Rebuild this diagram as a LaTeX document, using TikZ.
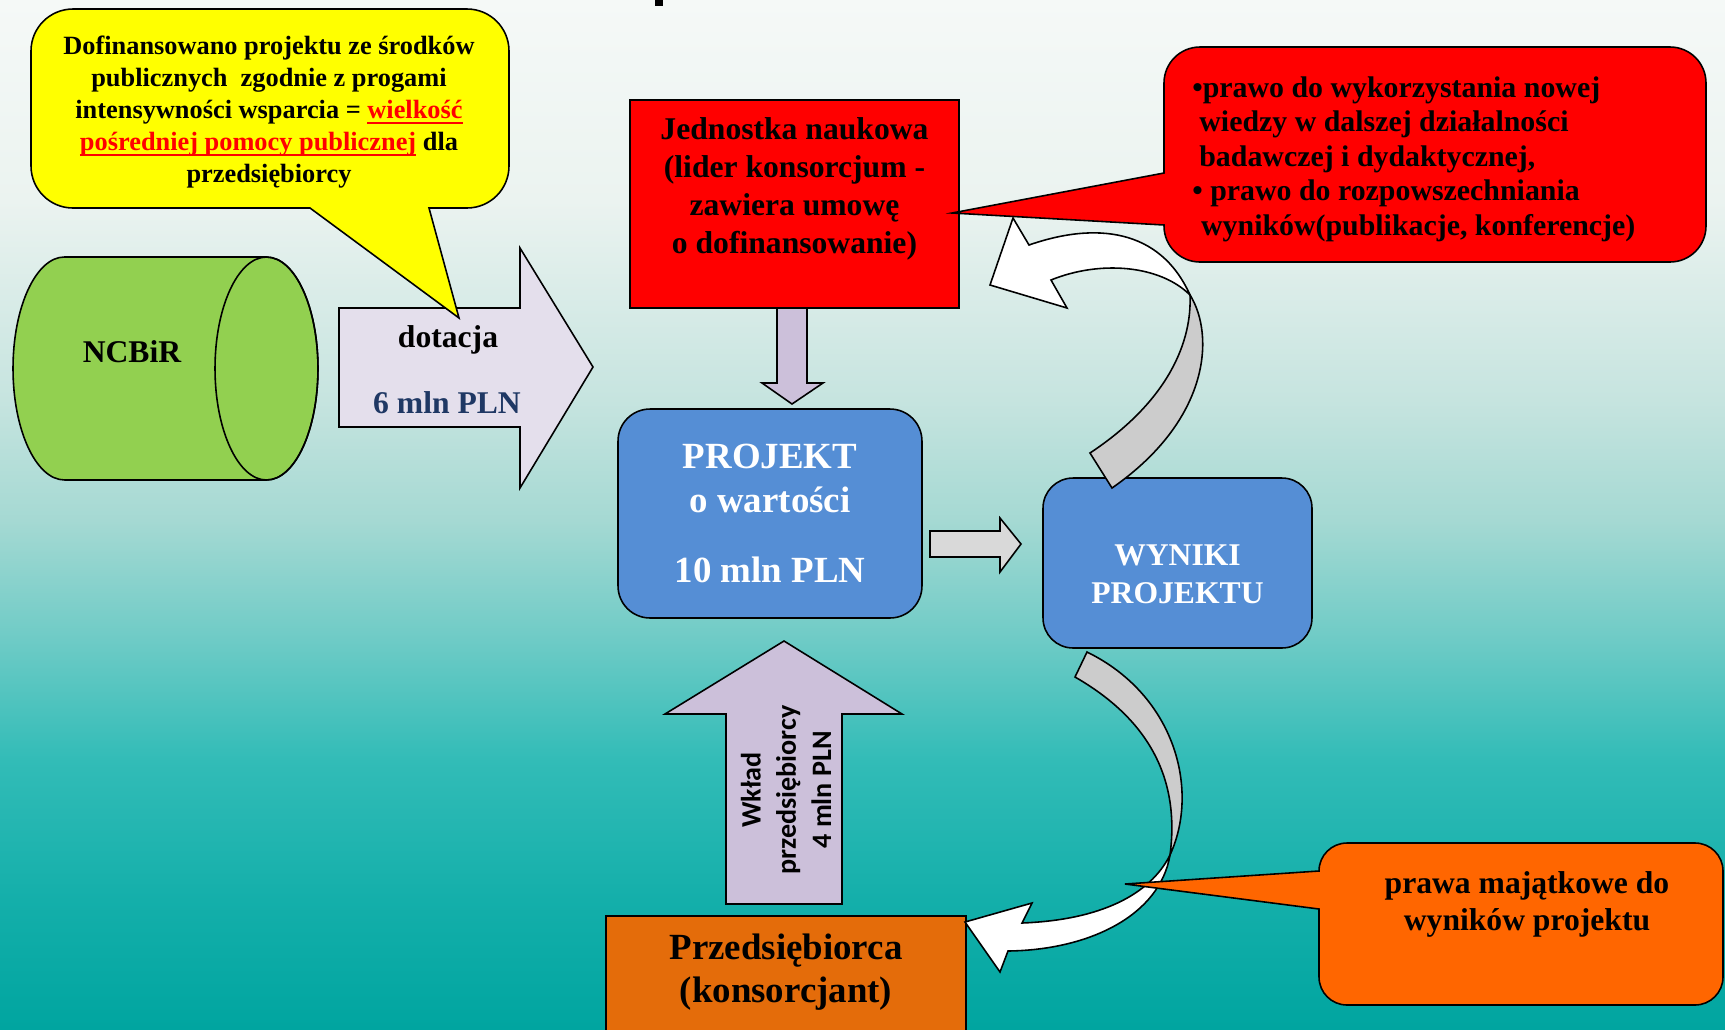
\documentclass[tikz,border=0pt]{standalone}
\usepackage{fontspec}
\setmainfont{Liberation Serif}
\newfontfamily\wkladfont{Carlito}
\usetikzlibrary{calc}

\definecolor{callyellow}{RGB}{255,255,0}
\definecolor{ncbirgreen}{RGB}{146,208,80}
\definecolor{dotlilac}{RGB}{228,223,236}
\definecolor{arrlilac}{RGB}{204,192,218}
\definecolor{projblue}{RGB}{85,142,213}
\definecolor{arrgrey}{RGB}{217,217,217}
\definecolor{bandgrey}{RGB}{204,204,204}
\definecolor{firmorange}{RGB}{228,108,10}
\definecolor{calloutorange}{RGB}{255,102,0}
\definecolor{plnblue}{RGB}{31,56,100}
\definecolor{ulred}{RGB}{255,0,0}

\pgfdeclareverticalshading{oceanbg}{100bp}{rgb(0bp)=(0,.647,.627); rgb(25bp)=(0,.647,.627);
  rgb(31.27bp)=(.078,.686,.667); rgb(38.07bp)=(.196,.737,.718); rgb(43.9bp)=(.431,.796,.776);
  rgb(49.73bp)=(.647,.851,.827); rgb(55.56bp)=(.776,.894,.875); rgb(65.28bp)=(.922,.953,.941);
  rgb(75bp)=(.961,.976,.969); rgb(100bp)=(.961,.976,.969)}

\newcommand\redul[1]{\setbox0\hbox{#1}\rlap{\color{ulred}\rule[-3.2pt]{\wd0}{1.1pt}}\box0}

\tikzset{
  outline/.style={draw=black, line width=0.9pt, line join=miter},
  boxtext/.style={align=center, inner sep=0pt},
}

\begin{document}
\begin{tikzpicture}[x=0.02cm, y=-0.02cm]
    \clip (0,0) rectangle (1725,1029);
    \shade[shading=oceanbg] (0,0) rectangle (1725,1029);
    \fill[black] (655,0) rectangle (663,6);
    % NCBiR
    \draw[outline, fill=ncbirgreen] (266.5,257) -- (64.5,257)
        arc[start angle=90, end angle=270, x radius=1.03cm, y radius=2.23cm] -- (266.5,480)
        arc[start angle=-90, end angle=90, x radius=1.03cm, y radius=2.23cm] -- cycle;
    \draw[outline] (266.5,368.5) ellipse[x radius=1.03cm, y radius=2.23cm];
    \node[boxtext, font=\fontsize{18}{21}\selectfont\bfseries] (ncbir) at (132,352) {NCBiR};
    % dotacja
    \draw[outline, fill=dotlilac] (339,308) -- (520,308) -- (520,248) -- (593,367) -- (520,488) -- (520,427) -- (339,427) -- cycle;
    \node[boxtext, font=\fontsize{18}{21}\selectfont\bfseries] (dotacja) at (448,340) {dotacja};
    \node[boxtext, font=\fontsize{18}{21}\selectfont\bfseries, text=plnblue] (szesc) at (447,403) {6 mln PLN};
    % yellow callout
    \draw[outline, fill=callyellow] (73,9) -- (467,9) arc[start angle=90, end angle=0, radius=0.84cm]
        -- (509,166) arc[start angle=0, end angle=-90, radius=0.84cm] -- (429,208) -- (459,318) -- (310,208)
        -- (73,208) arc[start angle=270, end angle=180, radius=0.84cm] -- (31,51)
        arc[start angle=180, end angle=90, radius=0.84cm] -- cycle;
    \node[boxtext, font=\fontsize{15}{18.2}\selectfont\bfseries] (dofin) at (269,112)
        {Dofinansowano projektu ze środków\\publicznych \ zgodnie z progami\\intensywności wsparcia = \textcolor{ulred}{\redul{wielkość}}\\\textcolor{ulred}{\redul{pośredniej pomocy publicznej}} dla\\przedsiębiorcy};
    % Jednostka naukowa
    \node[outline, fill=red, minimum width=6.58cm, minimum height=4.16cm] (jedn) at (794.5,204) {};
    \node[boxtext, font=\fontsize{18}{21.6}\selectfont\bfseries] (jedntext) at ($(jedn)+(0,-15)$)
        {Jednostka naukowa\\(lider konsorcjum -\\zawiera umowę\\o dofinansowanie)};
    \draw[outline, fill=arrlilac] (777,308) -- (807,308) -- (807,383) -- (823,383) -- (792,404) -- (762,383) -- (777,383) -- cycle;
    % projekt
    \node[outline, fill=projblue, rounded corners=0.64cm, minimum width=6.08cm, minimum height=4.18cm,
        text=white, font=\fontsize{21}{25}\selectfont\bfseries, align=center] (proj) at (770,513.5)
        {PROJEKT\\o wartości\\[15pt]10 mln PLN};
    \draw[outline, fill=arrgrey] (930,531) -- (1000,531) -- (1000,518) -- (1021,544) -- (1000,572) -- (1000,557) -- (930,557) -- cycle;
    % wyniki
    \node[outline, fill=projblue, rounded corners=0.6cm, minimum width=5.38cm, minimum height=3.4cm] (wyn) at (1177.5,563) {};
    \node[boxtext, text=white, font=\fontsize{18}{21.6}\selectfont\bfseries] (wyntext) at ($(wyn)+(0,11)$) {WYNIKI\\PROJEKTU};
    % curved arrow up
    \draw[outline, fill=bandgrey] (1190,295) .. controls (1215,335) and (1210,420) .. (1112,488) -- (1090,453)
        .. controls (1170,400) and (1192,340) .. (1190,295) -- cycle;
    \draw[outline, fill=white] (1013,218) -- (1029,245) .. controls (1095,222) and (1160,228) .. (1190,295)
        .. controls (1160,265) and (1100,260) .. (1051,280) -- (1067,308) -- (990,285) -- cycle;
    % red callout
    \draw[outline, fill=red] (1200,47) -- (1670,47) arc[start angle=90, end angle=0, radius=0.72cm]
        -- (1706,226) arc[start angle=0, end angle=-90, radius=0.72cm] -- (1200,262)
        arc[start angle=270, end angle=180, radius=0.72cm] -- (1164,225) -- (952,213) -- (1164,173)
        -- (1164,83) arc[start angle=180, end angle=90, radius=0.72cm] -- cycle;
    \node[boxtext, align=left, anchor=west, font=\fontsize{17}{19.6}\selectfont\bfseries] (prawa) at (1192,159)
        {•prawo do wykorzystania nowej\\\hspace*{4pt}wiedzy w dalszej działalności\\\hspace*{4pt}badawczej i dydaktycznej,\\• prawo do rozpowszechniania\\\hspace*{5pt}wyników(publikacje, konferencje)};
    % wklad
    \draw[outline, fill=arrlilac] (784,641) -- (902,714) -- (842,714) -- (842,904) -- (726,904) -- (726,714) -- (665,714) -- cycle;
    \node[boxtext, rotate=90, font=\wkladfont\fontsize{16}{20}\selectfont\bfseries] (wklad) at (786,790)
        {Wkład\\przedsiębiorcy\\4 mln PLN};
    % przedsiebiorca
    \node[outline, fill=firmorange, minimum width=7.2cm, minimum height=2.48cm] (firma) at (786,978) {};
    \node[boxtext, font=\fontsize{21}{24.5}\selectfont\bfseries] (firmatext) at (786,972) {Przedsiębiorca\\(konsorcjant)};
    % curved arrow down
    \draw[outline, fill=bandgrey] (1087,652) .. controls (1175,695) and (1200,790) .. (1170,855)
        .. controls (1180,780) and (1150,720) .. (1075,677) -- cycle;
    \draw[outline, fill=white] (1170,855) .. controls (1150,895) and (1100,920) .. (1022,923) -- (1032,903) -- (965,922)
        -- (1000,972) -- (1008,951) .. controls (1090,950) and (1160,915) .. (1170,855) -- cycle;
    % orange callout
    \draw[outline, fill=calloutorange] (1347,843) -- (1695,843) arc[start angle=90, end angle=0, radius=0.56cm]
        -- (1723,977) arc[start angle=0, end angle=-90, radius=0.56cm] -- (1347,1005)
        arc[start angle=270, end angle=180, radius=0.56cm] -- (1319,909) -- (1125,884) -- (1319,871)
        arc[start angle=180, end angle=90, radius=0.56cm] -- cycle;
    \node[boxtext, font=\fontsize{18}{21}\selectfont\bfseries] (majatek) at (1527,904) {prawa majątkowe do\\wyników projektu};
\end{tikzpicture}
\end{document}
